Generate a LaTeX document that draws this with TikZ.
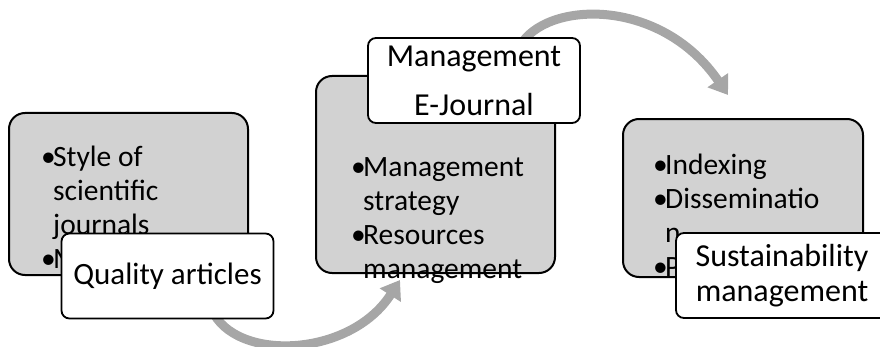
\documentclass[tikz,border=0pt]{standalone}
\usepackage{fontspec}
\setmainfont{Carlito}
\usetikzlibrary{arrows.meta}

\definecolor{boxgray}{HTML}{D2D2D2}
\definecolor{arrowgray}{HTML}{A6A6A6}
\newcommand{\bitem}{\makebox[12pt][l]{\textbullet}}
\newcommand{\bcont}{\hspace*{12pt}}

\begin{document}
\begin{tikzpicture}[x=1pt, y=1pt,
    graybox/.style={draw, line width=2pt, fill=boxgray, rounded corners=16pt,
        minimum width=239pt, inner sep=0pt},
    labelbox/.style={draw, line width=1.8pt, fill=white, rounded corners=8pt,
        minimum width=212pt, minimum height=85pt, inner sep=0pt, align=center,
        font=\fontsize{32}{38}\selectfont},
    bodytext/.style={anchor=base west, inner sep=0pt, align=left,
        font=\fontsize{29.5}{34}\selectfont},
    flowarrow/.style={draw=arrowgray, line width=9pt,
        -{Triangle[width=24pt,length=18pt]}}]
    \useasboundingbox (0,0) rectangle (880,346);
    \clip (0,0) rectangle (880,346);

    % Arrow ends
    \coordinate (arrow1-start) at (212,36);
    \coordinate (arrow1-end) at (400,66);
    \coordinate (arrow2-start) at (520,300);
    \coordinate (arrow2-end) at (728,251);

    % Arrows (behind the boxes)
    \draw[flowarrow] (arrow1-start) .. controls (235,-16) and (350,-12) .. (arrow1-end);
    \draw[flowarrow] (arrow2-start) .. controls (545,345) and (660,350) .. (arrow2-end);

    % Gray boxes
    \node[graybox, minimum height=162pt] (style) at (128.5,152) {};
    \node[graybox, minimum height=197pt] (strategy) at (435.5,171.5) {};
    \node[graybox, minimum width=240pt, minimum height=158pt] (indexing) at (743,148) {};

    % Box texts (anchored at the baseline of the last line)
    \node[bodytext] (style-text) at (41,78)
        {\bitem Style of\\ \bcont scientific\\ \bcont journals\\ \bitem M};
    \node[bodytext] (strategy-text) at (351,68)
        {\bitem Management\\ \bcont strategy\\ \bitem Resources\\ \bcont management};
    \node[bodytext] (indexing-text) at (653,70)
        {\bitem Indexing\\ \bitem Disseminatio\\ \bcont n\\ \bitem P};

    % Labels
    \node[labelbox, font=\fontsize{31}{37}\selectfont] (quality) at (167.5,70) {Quality articles};
    \node[labelbox] (ejournal) at (474,265.5) {Management\\[11pt]E-Journal};
    \node[labelbox] (sustain) at (782,70.5) {Sustainability\\[-3pt]management};
\end{tikzpicture}
\end{document}
